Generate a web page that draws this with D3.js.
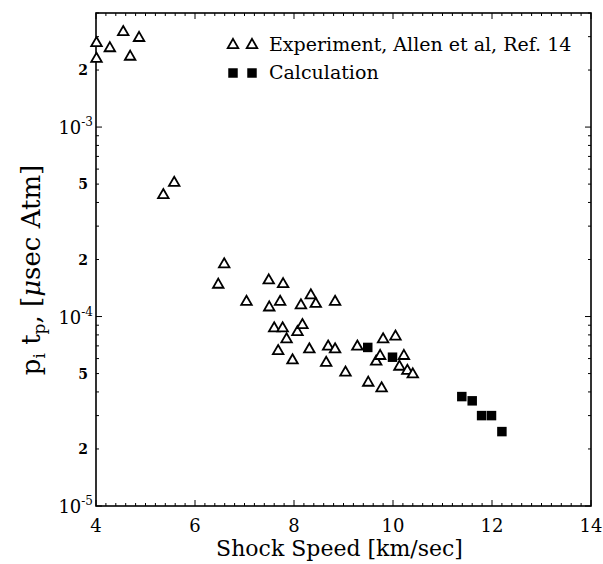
<!DOCTYPE html>
<html><head><meta charset="utf-8">
<script src="https://cdn.jsdelivr.net/npm/d3@7"></script>
<style>body{margin:0;background:#fff}svg{display:block}</style>
</head><body><div id="chart"></div>
<script>
const expSpeed = [4.01,4.01,4.28,4.55,4.69,4.87,5.36,5.58,6.47,6.59,7.04,7.49,7.50,7.72,7.78,7.60,7.77,7.68,7.85,7.97,8.07,8.17,8.14,8.34,8.44,8.83,8.31,8.69,8.83,8.65,9.04,9.28,9.50,9.77,9.66,9.74,9.80,10.05,10.22,10.13,10.29,10.40];
const expValue = [2.81e-3,2.32e-3,2.64e-3,3.21e-3,2.38e-3,2.99e-3,4.43e-4,5.14e-4,1.49e-4,1.91e-4,1.21e-4,1.57e-4,1.13e-4,1.21e-4,1.50e-4,8.77e-5,8.77e-5,6.65e-5,7.67e-5,5.94e-5,8.38e-5,9.12e-5,1.16e-4,1.31e-4,1.18e-4,1.21e-4,6.79e-5,7.02e-5,6.79e-5,5.77e-5,5.12e-5,7.02e-5,4.53e-5,4.23e-5,5.85e-5,6.27e-5,7.67e-5,7.93e-5,6.27e-5,5.5e-5,5.23e-5,5.01e-5];
const calcSpeed = [9.49,9.99,11.39,11.60,11.79,11.99,12.20];
const calcValue = [6.87e-5,6.1e-5,3.78e-5,3.59e-5,3.0e-5,3.0e-5,2.47e-5];
const xTicks = [4,6,8,10,12,14];
const yMajor = [1e-5,1e-4,1e-3];
const yLabeledMinor = [2e-5,5e-5,2e-4,5e-4,2e-3];
const legendLabels = ["Experiment, Allen et al, Ref. 14","Calculation"];

const FONT = "'DejaVu Serif', 'Liberation Serif', serif";
const W=603,H=564;
const L=96,R=591,T=13,B=506;
const svg=d3.select("#chart").append("svg").attr("width",W).attr("height",H)
  .attr("font-family",FONT).attr("fill","#000");
const x=d3.scaleLinear().domain([4,14]).range([L,R]);
const y=d3.scaleLog().domain([1e-5,4e-3]).range([B,T]);

// ticks
const xMinor=d3.range(4,14.001,0.2);
const yMinorAll=[];
[1e-5,1e-4,1e-3].forEach(d=>{for(let k=1;k<10;k++){const v=d*k;if(v<=4e-3)yMinorAll.push(v);}});
const g=svg.append("g").attr("stroke","#000").attr("stroke-width",1);
xMinor.forEach(v=>{
  const major=xTicks.some(t=>Math.abs(t-v)<1e-6);
  const len=major?6:3;
  g.append("line").attr("x1",x(v)).attr("x2",x(v)).attr("y1",B).attr("y2",B-len);
  g.append("line").attr("x1",x(v)).attr("x2",x(v)).attr("y1",T).attr("y2",T+len);
});
yMinorAll.forEach(v=>{
  const major=yMajor.some(t=>Math.abs(t-v)/t<1e-6);
  const len=major?6:3;
  g.append("line").attr("x1",L).attr("x2",L+len).attr("y1",y(v)).attr("y2",y(v));
  g.append("line").attr("x1",R).attr("x2",R-len).attr("y1",y(v)).attr("y2",y(v));
});
svg.append("rect").attr("x",L).attr("y",T).attr("width",R-L).attr("height",B-T)
  .attr("fill","none").attr("stroke","#000").attr("stroke-width",1.6);

// x tick labels
svg.append("g").selectAll("text").data(xTicks).join("text")
  .attr("x",d=>x(d)).attr("y",B+26).attr("text-anchor","middle")
  .style("font-size","18px").text(d=>d);
// y labels
const yl=svg.append("g");
yMajor.forEach(v=>{
  const t=yl.append("text").attr("x",L-3).attr("y",y(v)+7).attr("text-anchor","end").style("font-size","18px");
  t.append("tspan").text("10");
  t.append("tspan").attr("dy",-8).style("font-size","12px").text("-"+Math.round(-Math.log10(v)));
});
yLabeledMinor.forEach(v=>{
  yl.append("text").attr("x",L-8).attr("y",y(v)+5).attr("text-anchor","end")
    .style("font-size","14px").style("font-weight","bold").text(Math.round(v/Math.pow(10,Math.floor(Math.log10(v)+1e-9))));
});

// axis titles
svg.append("text").attr("x",(L+R)/2-4).attr("y",556).attr("text-anchor","middle")
  .style("font-size","22px").text("Shock Speed [km/sec]");
const yt=svg.append("text").attr("transform","translate(40,270) rotate(-90)").attr("text-anchor","middle")
  .style("font-size","26px");
yt.append("tspan").text("p");
yt.append("tspan").attr("dy",5).style("font-size","17px").text("i");
yt.append("tspan").attr("dy",-5).text(" t");
yt.append("tspan").attr("dy",5).style("font-size","17px").text("p");
yt.append("tspan").attr("dy",-5).text(", [");
yt.append("tspan").style("font-style","italic").text("μ");
yt.append("tspan").text("sec Atm]");

const tri=d3.symbol().type(d3.symbolTriangle).size(48);
const sq=d3.symbol().type(d3.symbolSquare).size(90);
const expData=expSpeed.map((s,i)=>({s,v:expValue[i]}));
const calcData=calcSpeed.map((s,i)=>({s,v:calcValue[i]}));
svg.append("g").selectAll("path").data(expData).join("path")
  .attr("d",tri).attr("transform",d=>`translate(${x(d.s)},${y(d.v)+1})`)
  .attr("fill","#fff").attr("stroke","#000").attr("stroke-width",1.8);
svg.append("g").selectAll("path").data(calcData).join("path")
  .attr("d",sq).attr("transform",d=>`translate(${x(d.s)},${y(d.v)})`).attr("fill","#000");

// legend
const lg=svg.append("g");
[233,252].forEach(px=>{
  lg.append("path").attr("d",tri).attr("transform",`translate(${px},45)`).attr("fill","#fff").attr("stroke","#000").attr("stroke-width",1.8);
  lg.append("path").attr("d",sq).attr("transform",`translate(${px},73)`).attr("fill","#000");
});
lg.append("text").attr("x",269).attr("y",51).style("font-size","19px").text(legendLabels[0]);
lg.append("text").attr("x",269).attr("y",79).style("font-size","19px").text(legendLabels[1]);
</script></body></html>
